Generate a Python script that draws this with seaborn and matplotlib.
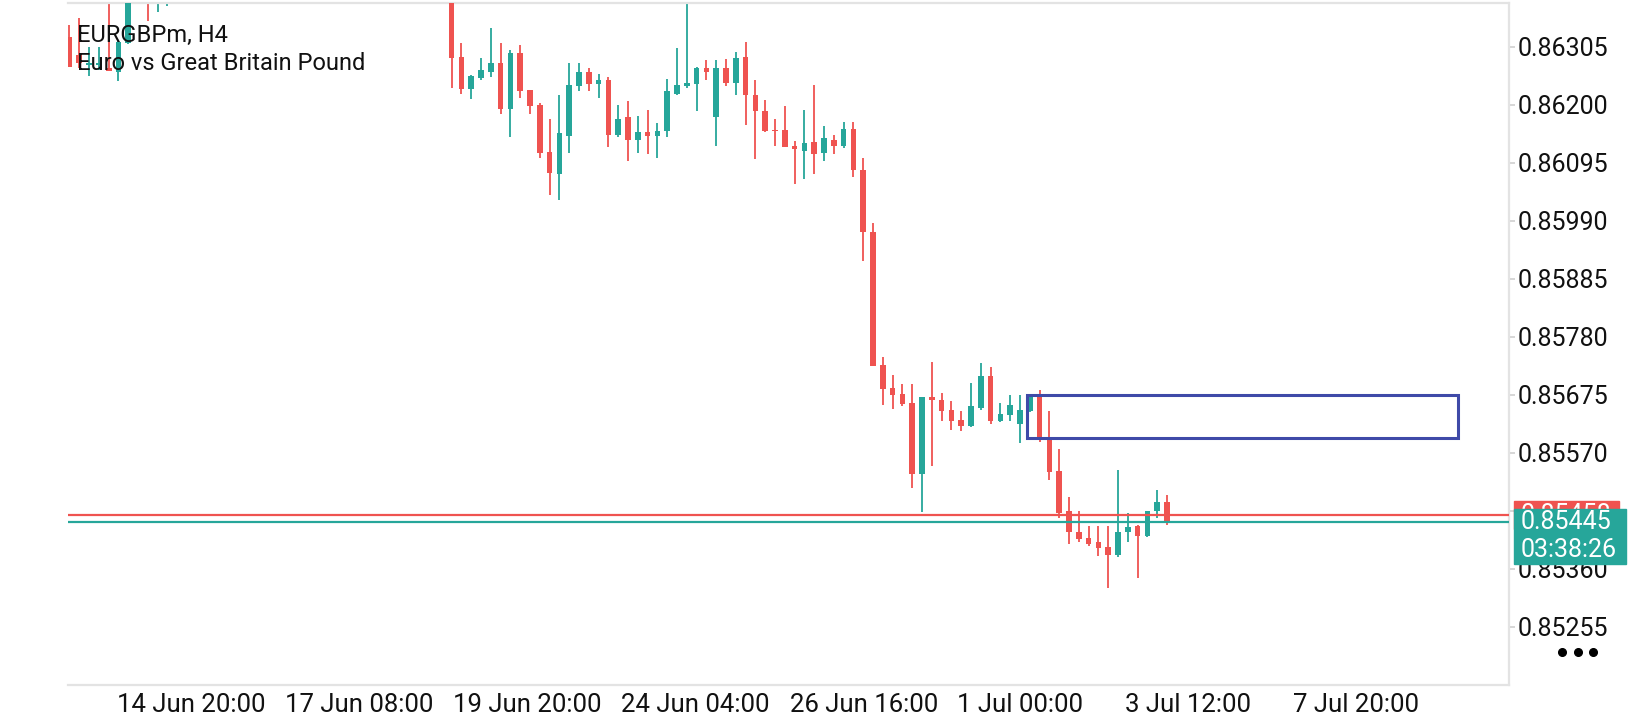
import numpy as np
import pandas as pd
import matplotlib
matplotlib.use('Agg')
import matplotlib.pyplot as plt
import matplotlib.transforms as mtransforms
from matplotlib.patches import Rectangle
import seaborn as sns

# EURGBPm H4 candles (bars 7..38 and part of 4..10 sit above the visible window)
opens = [0.86323, 0.86290, 0.86272, 0.86272, 0.86266, 0.86260, 0.86311, 0.86420, 0.86460, 0.86400,
         0.86440, 0.86490, 0.86470, 0.86505, 0.86540, 0.86515, 0.86480, 0.86500, 0.86530, 0.86575,
         0.86560, 0.86545, 0.86520, 0.86535, 0.86550, 0.86600, 0.86585, 0.86555, 0.86530, 0.86495,
         0.86520, 0.86505, 0.86475, 0.86490, 0.86515, 0.86495, 0.86460, 0.86470, 0.86445, 0.86420,
         0.86287, 0.86229, 0.86249, 0.86260, 0.86275, 0.86193, 0.86293, 0.86226, 0.86199, 0.86115,
         0.86075, 0.86144, 0.86233, 0.86260, 0.86238, 0.86244, 0.86146, 0.86177, 0.86137, 0.86150,
         0.86144, 0.86152, 0.86220, 0.86233, 0.86238, 0.86266, 0.86177, 0.86266, 0.86240, 0.86287,
         0.86217, 0.86188, 0.86155, 0.86155, 0.86126, 0.86117, 0.86132, 0.86112, 0.86137, 0.86126,
         0.86156, 0.86081, 0.85970, 0.85729, 0.85688, 0.85677, 0.85661, 0.85531, 0.85672, 0.85666,
         0.85647, 0.85630, 0.85619, 0.85652, 0.85710, 0.85627, 0.85639, 0.85623, 0.85645, 0.85672,
         0.85593, 0.85537, 0.85465, 0.85427, 0.85416, 0.85408, 0.85399, 0.85386, 0.85426, 0.85438,
         0.85420, 0.85464, 0.85482]
highs = [0.86345, 0.86357, 0.86305, 0.86305, 0.86400, 0.86316, 0.86440, 0.86470, 0.86480, 0.86470,
         0.86510, 0.86530, 0.86520, 0.86560, 0.86575, 0.86550, 0.86520, 0.86540, 0.86590, 0.86610,
         0.86600, 0.86580, 0.86555, 0.86570, 0.86620, 0.86640, 0.86610, 0.86590, 0.86560, 0.86540,
         0.86555, 0.86530, 0.86510, 0.86530, 0.86545, 0.86520, 0.86495, 0.86500, 0.86470, 0.86440,
         0.86312, 0.86253, 0.86285, 0.86339, 0.86312, 0.86299, 0.86308, 0.86227, 0.86203, 0.86175,
         0.86218, 0.86275, 0.86276, 0.86267, 0.86255, 0.86251, 0.86199, 0.86206, 0.86180, 0.86191,
         0.86166, 0.86246, 0.86302, 0.86400, 0.86269, 0.86281, 0.86281, 0.86283, 0.86296, 0.86314,
         0.86244, 0.86208, 0.86175, 0.86197, 0.86135, 0.86191, 0.86235, 0.86162, 0.86146, 0.86169,
         0.86169, 0.86104, 0.85986, 0.85744, 0.85711, 0.85695, 0.85695, 0.85671, 0.85735, 0.85679,
         0.85663, 0.85645, 0.85697, 0.85733, 0.85726, 0.85661, 0.85675, 0.85674, 0.85675, 0.85683,
         0.85645, 0.85577, 0.85491, 0.85465, 0.85437, 0.85437, 0.85437, 0.85539, 0.85462, 0.85439,
         0.85465, 0.85502, 0.85493]
lows = [0.86269, 0.86267, 0.86252, 0.86263, 0.86261, 0.86242, 0.86310, 0.86405, 0.86351, 0.86367,
        0.86379, 0.86455, 0.86440, 0.86490, 0.86500, 0.86470, 0.86450, 0.86485, 0.86520, 0.86545,
        0.86530, 0.86505, 0.86490, 0.86510, 0.86540, 0.86570, 0.86540, 0.86520, 0.86480, 0.86470,
        0.86495, 0.86460, 0.86440, 0.86470, 0.86480, 0.86450, 0.86425, 0.86430, 0.86400, 0.86231,
        0.86220, 0.86211, 0.86244, 0.86251, 0.86184, 0.86142, 0.86213, 0.86184, 0.86104, 0.86036,
        0.86028, 0.86113, 0.86224, 0.86224, 0.86213, 0.86124, 0.86142, 0.86099, 0.86113, 0.86110,
        0.86103, 0.86142, 0.86217, 0.86231, 0.86188, 0.86244, 0.86126, 0.86233, 0.86218, 0.86164,
        0.86101, 0.86150, 0.86126, 0.86123, 0.86056, 0.86065, 0.86075, 0.86099, 0.86110, 0.86121,
        0.86070, 0.85918, 0.85727, 0.85656, 0.85650, 0.85654, 0.85507, 0.85463, 0.85547, 0.85628,
        0.85612, 0.85610, 0.85616, 0.85648, 0.85623, 0.85626, 0.85628, 0.85587, 0.85644, 0.85590,
        0.85521, 0.85452, 0.85406, 0.85409, 0.85402, 0.85384, 0.85325, 0.85382, 0.85408, 0.85344,
        0.85417, 0.85452, 0.85440]
closes = [0.86269, 0.86275, 0.86275, 0.86275, 0.86261, 0.86314, 0.86420, 0.86455, 0.86410, 0.86445,
          0.86490, 0.86470, 0.86505, 0.86540, 0.86515, 0.86480, 0.86500, 0.86530, 0.86575, 0.86560,
          0.86545, 0.86520, 0.86535, 0.86550, 0.86600, 0.86585, 0.86555, 0.86530, 0.86495, 0.86520,
          0.86505, 0.86475, 0.86490, 0.86515, 0.86495, 0.86460, 0.86470, 0.86445, 0.86420, 0.86284,
          0.86229, 0.86252, 0.86262, 0.86275, 0.86193, 0.86293, 0.86224, 0.86197, 0.86113, 0.86077,
          0.86148, 0.86235, 0.86260, 0.86238, 0.86244, 0.86146, 0.86175, 0.86137, 0.86150, 0.86144,
          0.86153, 0.86224, 0.86235, 0.86240, 0.86267, 0.86260, 0.86266, 0.86240, 0.86285, 0.86217,
          0.86188, 0.86153, 0.86152, 0.86124, 0.86119, 0.86130, 0.86110, 0.86139, 0.86126, 0.86156,
          0.86081, 0.85969, 0.85728, 0.85686, 0.85675, 0.85659, 0.85531, 0.85671, 0.85665, 0.85645,
          0.85628, 0.85619, 0.85654, 0.85710, 0.85627, 0.85641, 0.85657, 0.85647, 0.85674, 0.85598,
          0.85536, 0.85462, 0.85426, 0.85415, 0.85406, 0.85397, 0.85386, 0.85427, 0.85436, 0.85420,
          0.85465, 0.85482, 0.85445]

tick_pos = [4.5, 21.7, 38.8, 56.0, 73.2, 90.3, 107.4, 124.6]
tick_labels = ['14 Jun 20:00', '17 Jun 08:00', '19 Jun 20:00', '24 Jun 04:00',
               '26 Jun 16:00', '1 Jul 00:00', '3 Jul 12:00', '7 Jul 20:00']
price_ticks = [0.85255, 0.85360, 0.85465, 0.85570, 0.85675, 0.85780,
               0.85885, 0.85990, 0.86095, 0.86200, 0.86305]

bid = 0.85445
ask = 0.85458
timer = '03:38:26'
zone_top, zone_bottom = 0.85675, 0.85597
zone_start, zone_end = 97.7, 141.7

GREEN = '#26A69A'
RED = '#EF5350'
BLUE = '#3F4AA8'
GRID = '#E3E3E3'
INK = '#111111'

sns.set_theme(style='white')
plt.rcParams['font.family'] = ['Roboto', 'DejaVu Sans']

df = pd.DataFrame({'open': opens, 'high': highs, 'low': lows, 'close': closes})
df['bar'] = np.arange(len(df))
df['color'] = np.where(df['close'] >= df['open'], GREEN, RED)

fig = plt.figure(figsize=(16.4, 7.2), dpi=100)
ax = fig.add_axes([68 / 1640, 35 / 720, 1441 / 1640, 682 / 720])

# wicks and bodies
ax.vlines(df['bar'], df['low'], df['high'], colors=df['color'], linewidth=1.3, zorder=2)
body = (df['close'] - df['open']).abs().clip(lower=0.00002)
ax.bar(df['bar'], body, bottom=df[['open', 'close']].min(axis=1), width=0.58,
       color=df['color'], linewidth=0, zorder=3)

# price lines and zone
ax.axhline(ask, color=RED, linewidth=1.6, zorder=4)
ax.axhline(bid, color=GREEN, linewidth=1.6, zorder=4)
ax.add_patch(Rectangle((zone_start, zone_bottom), zone_end - zone_start, zone_top - zone_bottom,
                       fill=False, edgecolor=BLUE, linewidth=2.2, zorder=5))

ax.set_xlim(-0.15, 146.9)
ax.set_ylim(0.85150, 0.86384)

sns.despine(ax=ax, left=True, right=False, top=False, bottom=False)
for side in ['right', 'top', 'bottom']:
    ax.spines[side].set_color(GRID)
    ax.spines[side].set_linewidth(1.6)

ax.yaxis.tick_right()
ax.set_yticks(price_ticks, [f'{v:.5f}' for v in price_ticks])
ax.set_xticks(tick_pos, tick_labels, ha='left')
ax.tick_params(axis='y', length=4, width=1.2, color='#CFCFCF', pad=2, labelsize=18, labelcolor=INK)
ax.tick_params(axis='x', length=5, width=1.2, color='#CFCFCF', pad=1, labelsize=18.5, labelcolor=INK)
shift = mtransforms.ScaledTranslation(3 / 100, 0, fig.dpi_scale_trans)
for lab in ax.get_xticklabels():
    lab.set_transform(lab.get_transform() + shift)
ax.grid(False)

# symbol header
fig.text(76.7 / 1640, 1 - 42 / 720, 'EURGBPm, H4', fontsize=17, color=INK, va='baseline')
fig.text(76.7 / 1640, 1 - 70 / 720, 'Euro vs Great Britain Pound', fontsize=17, color=INK, va='baseline')

# price labels on the scale (ask label sits mostly behind the bid label)
ask_y = ax.transData.transform((0, ask))[1]
bid_y = ax.transData.transform((0, bid))[1]
fig.add_artist(Rectangle((1514 / 1640, (ask_y - 14) / 720), 105 / 1640, 28 / 720,
                         transform=fig.transFigure, color=RED, zorder=6))
fig.text(1521 / 1640, ask_y / 720, f'{ask:.5f}', fontsize=18, color='white',
         va='center', zorder=7)
fig.add_artist(Rectangle((1514 / 1640, (bid_y - 42) / 720), 112 / 1640, 55 / 720,
                         transform=fig.transFigure, color=GREEN, zorder=8))
fig.text(1521 / 1640, bid_y / 720, f'{bid:.5f}', fontsize=18, color='white',
         va='center', zorder=9)
fig.text(1521 / 1640, (bid_y - 27.6) / 720, timer, fontsize=18, color='white',
         va='center', zorder=9)

# menu dots
fig.add_artist(plt.Line2D([1562 / 1640, 1578 / 1640, 1593 / 1640], [1 - 652 / 720] * 3,
                          transform=fig.transFigure, marker='o', linestyle='none',
                          markersize=5.5, color='black'))

fig.savefig('out.png', dpi=100)
